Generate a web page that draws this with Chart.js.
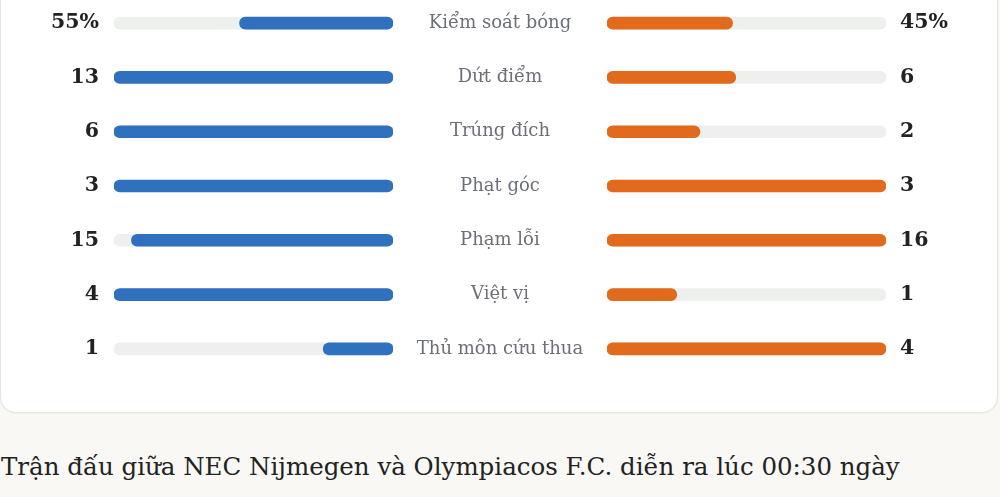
<!DOCTYPE html>
<html lang="vi">
<head>
<meta charset="utf-8">
<script src="https://cdn.jsdelivr.net/npm/chart.js@4.4.1/dist/chart.umd.min.js"></script>
<style>
  html, body { margin: 0; padding: 0; }
  body { width: 1000px; height: 497px; overflow: hidden; position: relative; background: #f9f8f4; }
  .card {
    position: absolute; left: 0; top: -40px; width: 996px; height: 451px;
    background: #fff; border: 1px solid #e4e4e2; border-radius: 16px;
    box-shadow: 0 1px 2px rgba(0,0,0,0.04);
  }
  .box { position: absolute; top: -4px; height: 380px; }
  #boxHome { left: 0; width: 607px; }
  #boxAway { left: 607px; width: 393px; }
  .para {
    position: absolute; left: 1px; top: 447px; white-space: nowrap;
    font-family: "DejaVu Serif", serif; font-size: 24.5px; line-height: 40px; color: #222;
  }
</style>
</head>
<body>
<div class="card"></div>
<div class="box" id="boxHome"><canvas id="home"></canvas></div>
<div class="box" id="boxAway"><canvas id="away"></canvas></div>
<div class="para">Trận đấu giữa NEC Nijmegen và Olympiacos F.C. diễn ra lúc 00:30 ngày</div>
<script>
// thống kê trận đấu
const categories = ["Kiểm soát bóng", "Dứt điểm", "Trúng đích", "Phạt góc", "Phạm lỗi", "Việt vị", "Thủ môn cứu thua"];
const homeValues = [55, 13, 6, 3, 15, 4, 1];
const awayValues = [45, 6, 2, 3, 16, 1, 4];
const isPercent = [true, false, false, false, false, false, false];

const BLUE = "#2f71bf";
const ORANGE = "#e26a1d";
const TRACK = "#eef0ee";
const GAP = 214; // khoảng giữa cho tên chỉ số
const labelFont = { family: "DejaVu Serif", size: 18 };
const numFont = { family: "DejaVu Serif", size: 20.5, weight: "bold" };

// tỉ lệ độ dài thanh: % thì trên 100, còn lại so với số lớn hơn
const ratio = (v, other, pct) => pct ? v / 100 : (Math.max(v, other) ? v / Math.max(v, other) : 0);
const homeRatio = homeValues.map((v, i) => ratio(v, awayValues[i], isPercent[i]));
const awayRatio = awayValues.map((v, i) => ratio(v, homeValues[i], isPercent[i]));
const fmt = (v, i) => v + (isPercent[i] ? "%" : "");

// đo chữ rộng nhất để căn giữa cột tên
const ctxMeasure = document.createElement("canvas").getContext("2d");
ctxMeasure.font = labelFont.size + "px " + labelFont.family;
const widest = Math.max(...categories.map(c => ctxMeasure.measureText(c).width));
const centerPad = (GAP - widest) / 2;

function datasets(values, color) {
  return [
    { data: values, backgroundColor: color, order: 1 },
    { data: categories.map(() => 1), backgroundColor: TRACK, order: 2 }
  ];
}

// bỏ phần đệm trên/dưới mà trục tự thêm vào
const fitAxis = w => s => { s.width = w; s.paddingTop = 0; s.paddingBottom = 0; };

const barOpts = {
  indexAxis: "y",
  responsive: true,
  maintainAspectRatio: false,
  animation: false,
  layout: { padding: 0 },
  datasets: { bar: { grouped: false, barThickness: 12, borderRadius: 6, borderSkipped: false } },
  plugins: { legend: { display: false }, tooltip: { enabled: false } }
};

new Chart(document.querySelector("#home"), {
  type: "bar",
  data: { labels: categories, datasets: datasets(homeRatio, BLUE) },
  options: {
    ...barOpts,
    scales: {
      x: { min: 0, max: 1, reverse: true, display: false },
      y: {
        position: "left", offset: true,
        grid: { display: false, drawTicks: false }, border: { display: false },
        ticks: { font: numFont, color: "#222", padding: 15, callback: (v, i) => fmt(homeValues[i], i) },
        afterFit: fitAxis(114)
      },
      yName: {
        type: "category", labels: categories, position: "right", offset: true,
        grid: { display: false, drawTicks: false }, border: { display: false },
        ticks: { font: labelFont, color: "#6b6f77", padding: centerPad, crossAlign: "center" },
        afterFit: fitAxis(GAP)
      }
    }
  }
});

new Chart(document.querySelector("#away"), {
  type: "bar",
  data: { labels: categories, datasets: datasets(awayRatio, ORANGE) },
  options: {
    ...barOpts,
    scales: {
      x: { min: 0, max: 1, display: false },
      y: {
        position: "right", offset: true,
        grid: { display: false, drawTicks: false }, border: { display: false },
        ticks: { font: numFont, color: "#222", padding: 14, callback: (v, i) => fmt(awayValues[i], i) },
        afterFit: fitAxis(114)
      }
    }
  }
});
</script>
</body>
</html>
